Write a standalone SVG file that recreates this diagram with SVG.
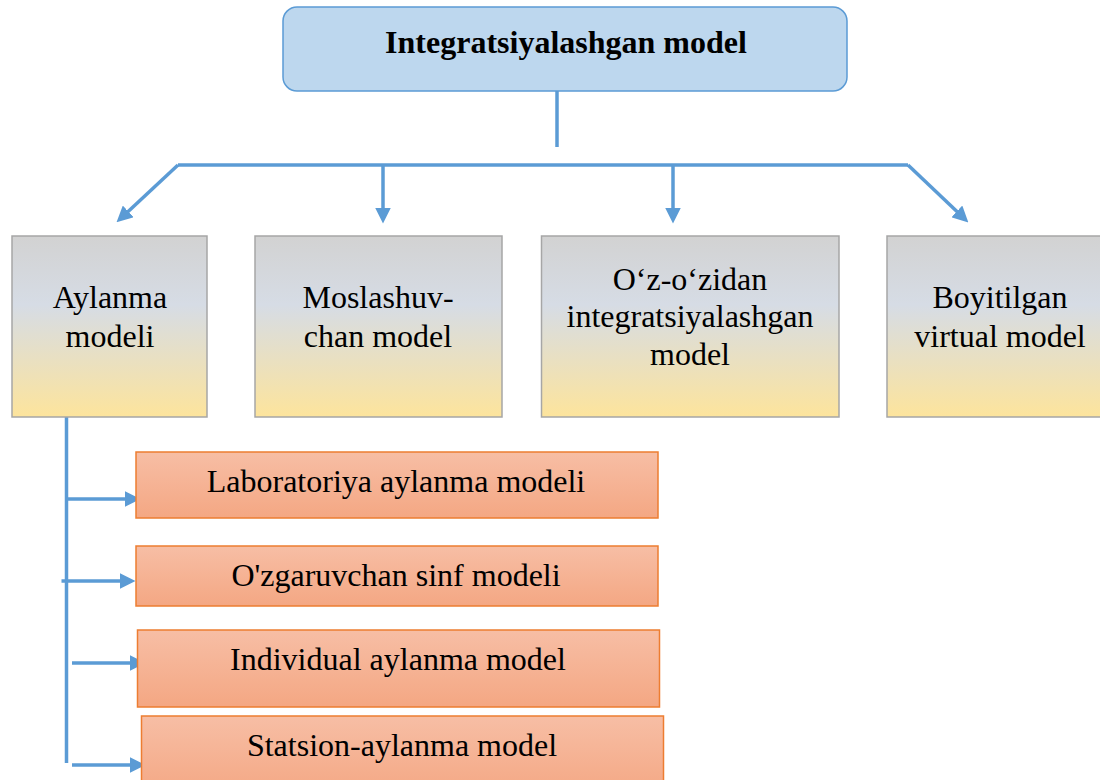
<svg xmlns="http://www.w3.org/2000/svg" width="1100" height="780" viewBox="0 0 1100 780">
  <defs>
    <linearGradient id="gTop" x1="0" y1="0" x2="0" y2="1">
      <stop offset="0" stop-color="#D2D2D2"/>
      <stop offset="0.38" stop-color="#D6DCE5"/>
      <stop offset="1" stop-color="#FDE49C"/>
    </linearGradient>
    <linearGradient id="gSub" x1="0" y1="0" x2="0" y2="1">
      <stop offset="0" stop-color="#F7BEA5"/>
      <stop offset="1" stop-color="#F4A783"/>
    </linearGradient>
    <marker id="arr" markerUnits="userSpaceOnUse" markerWidth="16" markerHeight="16" viewBox="0 0 15 15" refX="7" refY="7.5" orient="auto">
      <path d="M0,0 L15,7.5 L0,15 z" fill="#5B9BD5"/>
    </marker>
    <style>
      .txt { font-family: 'Liberation Serif', 'Times New Roman', serif; font-size: 32px; fill: #000; text-anchor: middle; }
      .title { font-family: 'Liberation Serif', 'Times New Roman', serif; font-size: 32px; font-weight: bold; fill: #000; text-anchor: middle; }
      .topbox { fill: url(#gTop); stroke: #A6A6A6; stroke-width: 1.5; }
      .subbox { fill: url(#gSub); stroke: #ED7D31; stroke-width: 1.5; }
      .ln { stroke: #5B9BD5; stroke-width: 3.5; fill: none; }
      .ar { stroke: #5B9BD5; stroke-width: 3.5; fill: none; marker-end: url(#arr); }
    </style>
  </defs>

  <g id="connectors">
    <line class="ln" x1="557" y1="91" x2="557" y2="147"/>
    <line class="ln" x1="178" y1="165" x2="908" y2="165"/>
    <line class="ar" x1="178" y1="165" x2="122.8" y2="216.5"/>
    <line class="ar" x1="383" y1="165" x2="383" y2="215"/>
    <line class="ar" x1="673" y1="165" x2="673" y2="215"/>
    <line class="ar" x1="908" y1="165" x2="962.2" y2="216.5"/>
    <line class="ln" x1="66.5" y1="417" x2="66.5" y2="763"/>
    <line class="ar" x1="66.5" y1="499" x2="132" y2="499"/>
    <line class="ar" x1="61.5" y1="581" x2="127" y2="581"/>
    <line class="ar" x1="72" y1="663" x2="137" y2="663"/>
    <line class="ar" x1="72" y1="765" x2="137" y2="765"/>
  </g>

  <g id="node-root">
    <rect x="283" y="7" width="564" height="84" rx="14" ry="14" fill="#BDD7EE" stroke="#5B9BD5" stroke-width="1.5"/>
    <text class="title" font-family="Liberation Serif, serif" x="566" y="53">Integratsiyalashgan model</text>
  </g>

  <g id="node-aylanma">
    <rect class="topbox" x="12" y="236" width="195" height="181"/>
    <text class="txt" font-family="Liberation Serif, serif" x="110" y="308">Aylanma</text>
    <text class="txt" font-family="Liberation Serif, serif" x="110" y="347">modeli</text>
  </g>

  <g id="node-moslashuv">
    <rect class="topbox" x="255" y="236" width="247" height="181"/>
    <text class="txt" font-family="Liberation Serif, serif" x="378" y="308">Moslashuv-</text>
    <text class="txt" font-family="Liberation Serif, serif" x="378" y="347">chan model</text>
  </g>

  <g id="node-ozozidan">
    <rect class="topbox" x="541.5" y="236" width="297.5" height="181"/>
    <text class="txt" font-family="Liberation Serif, serif" x="690" y="290">O‘z-o‘zidan</text>
    <text class="txt" font-family="Liberation Serif, serif" x="690" y="327">integratsiyalashgan</text>
    <text class="txt" font-family="Liberation Serif, serif" x="690" y="365">model</text>
  </g>

  <g id="node-boyitilgan">
    <rect class="topbox" x="887" y="236" width="220" height="181"/>
    <text class="txt" font-family="Liberation Serif, serif" x="1000" y="308">Boyitilgan</text>
    <text class="txt" font-family="Liberation Serif, serif" x="1000" y="347">virtual model</text>
  </g>

  <g id="node-laboratoriya">
    <rect class="subbox" x="136" y="452" width="522" height="66"/>
    <text class="txt" font-family="Liberation Serif, serif" x="396" y="492">Laboratoriya aylanma modeli</text>
  </g>

  <g id="node-ozgaruvchan">
    <rect class="subbox" x="136" y="546" width="522" height="60"/>
    <text class="txt" font-family="Liberation Serif, serif" x="396" y="586">O'zgaruvchan sinf modeli</text>
  </g>

  <g id="node-individual">
    <rect class="subbox" x="137.5" y="630" width="522" height="77"/>
    <text class="txt" font-family="Liberation Serif, serif" x="398" y="670">Individual aylanma model</text>
  </g>

  <g id="node-statsion">
    <rect class="subbox" x="141.5" y="716" width="522" height="80"/>
    <text class="txt" font-family="Liberation Serif, serif" x="402" y="756">Statsion-aylanma model</text>
  </g>
</svg>
